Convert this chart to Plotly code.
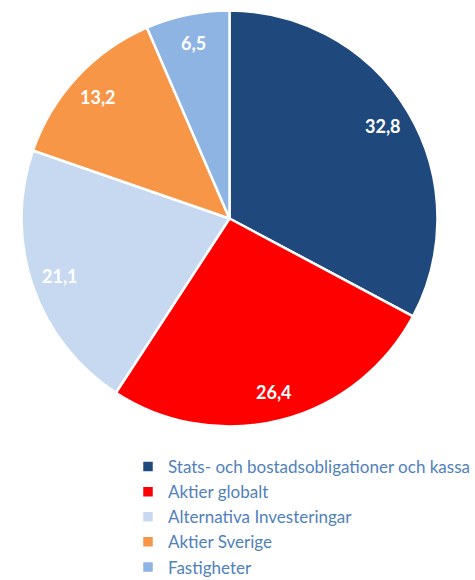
import math
import plotly.graph_objects as go

categories = ["Stats- och bostadsobligationer och kassa", "Aktier globalt",
              "Alternativa Investeringar", "Aktier Sverige", "Fastigheter"]
values = [32.8, 26.4, 21.1, 13.2, 6.5]
colors = ["#1F497D", "#FF0000", "#C6D9F1", "#F79646", "#8EB4E3"]

W, H = 475, 580
cx, cy, R = 229.5, 218.5, 208.0

fig = go.Figure(go.Pie(
    labels=categories, values=values, sort=False, direction="clockwise", rotation=0,
    marker=dict(colors=colors, line=dict(color="white", width=2.5)),
    textinfo="none", hoverinfo="label+value",
    domain=dict(x=[(cx - R) / W, (cx + R) / W], y=[1 - (cy + R) / H, 1 - (cy - R) / H]),
))

# data labels at ~0.86 R along each slice's mid-angle
total = sum(values)
cum = 0.0
annotations = []
for v in values:
    mid = (cum + v / 2) / total * 2 * math.pi
    cum += v
    x = cx + 0.86 * R * math.sin(mid)
    y = cy - 0.86 * R * math.cos(mid)
    annotations.append(dict(
        x=x / W, y=1 - y / H, xref="paper", yref="paper", showarrow=False,
        xanchor="center", yanchor="middle",
        text=f"{v:.1f}".replace(".", ","),
        font=dict(family="Lato", size=18, color="white", weight="bold"),
    ))

fig.update_layout(
    width=W, height=H, margin=dict(l=0, r=0, t=0, b=0, autoexpand=False),
    paper_bgcolor="white", plot_bgcolor="white",
    annotations=annotations,
    separators=", ",
    legend=dict(
        x=128 / W, xanchor="left", y=1 - 449 / H, yanchor="top",
        font=dict(family="Lato", size=17, color="#4F81BD"),
        itemwidth=30, tracegroupgap=0, bgcolor="rgba(0,0,0,0)",
    ),
)
fig.write_html("out.html")
